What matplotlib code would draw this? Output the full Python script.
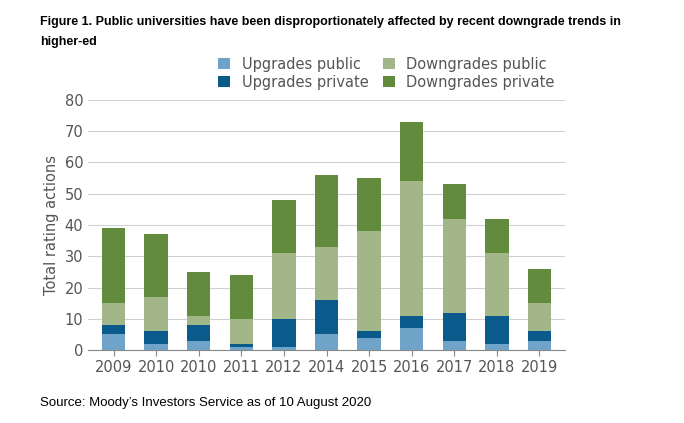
import matplotlib
matplotlib.use("Agg")
import matplotlib.pyplot as plt
import numpy as np

years = ["2009","2010","2010","2011","2012","2014","2015","2016","2017","2018","2019"]
up_public = [5,2,3,1,1,5,4,7,3,2,3]
up_private = [3,4,5,1,9,11,2,4,9,9,3]
down_public = [7,11,3,8,21,17,32,43,30,20,9]
down_private = [24,20,14,14,17,23,17,19,11,11,11]

fig = plt.figure(figsize=(6.84,4.23), dpi=100)
ax = fig.add_axes([88/684, 1-350/423, (565-88)/684, 250/423])
x = np.arange(len(years))
w = 0.55
series = [("Upgrades public", up_public, "#6fa3c7"),
          ("Upgrades private", up_private, "#0b5a8c"),
          ("Downgrades public", down_public, "#a2b68a"),
          ("Downgrades private", down_private, "#628b3e")]
bottom = np.zeros(len(years))
handles = {}
for name, vals, c in series:
    handles[name] = ax.bar(x, vals, w, bottom=bottom, color=c, label=name, zorder=3)
    bottom += np.array(vals)
ax.set_ylim(0, 80)
ax.set_xlim(-0.6, len(years)-0.4)
ax.set_yticks(range(0, 81, 10))
ax.set_xticks(x, years)
ax.grid(axis="y", color="#d0d0d0", lw=0.8, zorder=0)
for s in ["top","right","left"]:
    ax.spines[s].set_visible(False)
ax.spines["bottom"].set_color("#888888")
ax.tick_params(axis="both", colors="#555555", labelsize=10.5, length=0)
ax.tick_params(axis="x", length=4, color="#888888")
ax.set_ylabel("Total rating actions", color="#555555", fontsize=10.5)
order = ["Upgrades public","Upgrades private","Downgrades public","Downgrades private"]
leg = ax.legend([handles[n] for n in order], order, ncol=2, loc="lower right",
                bbox_to_anchor=(1.0, 1.0), frameon=False, fontsize=10.5,
                handlelength=0.8, handleheight=0.8, columnspacing=1.0,
                labelspacing=0.2, borderaxespad=0.3)
for t in leg.get_texts():
    t.set_color("#555555")
fig.text(40/684, 1-22/423, "Figure 1. Public universities have been disproportionately affected by recent downgrade trends in",
         fontsize=9, fontweight="bold", va="center", family="Liberation Sans")
fig.text(40/684, 1-42/423, "higher-ed", fontsize=9, fontweight="bold", va="center", family="Liberation Sans")
fig.text(40/684, 1-403/423, "Source: Moody\u2019s Investors Service as of 10 August 2020",
         fontsize=9.5, va="center", family="Liberation Sans")
fig.savefig("out.png", dpi=100)
